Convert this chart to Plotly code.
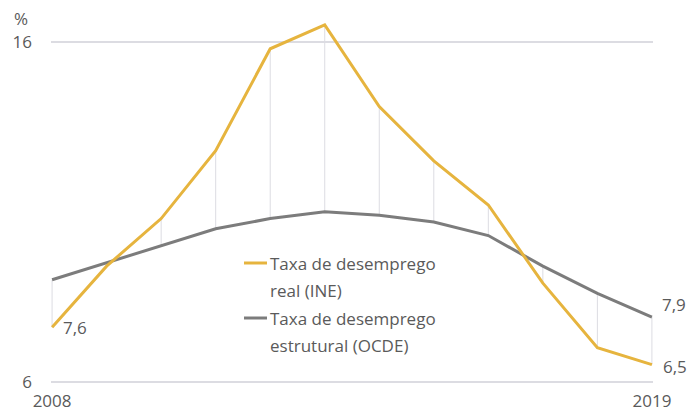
import plotly.graph_objects as go

# Annual unemployment rates, Portugal (%)
years = list(range(2008, 2020))
taxa_real = [7.6, 9.4, 10.8, 12.8, 15.8, 16.5, 14.1, 12.5, 11.2, 8.9, 7.0, 6.5]
taxa_estrutural = [9.0, 9.5, 10.0, 10.5, 10.8, 11.0, 10.9, 10.7, 10.3, 9.4, 8.6, 7.9]
y_ticks = [6, 16]
x_ticks = [2008, 2019]

name_real = ["Taxa de desemprego", "real (INE)"]
name_estr = ["Taxa de desemprego", "estrutural (OCDE)"]

YELLOW = "#E6B43E"
GREY = "#7C7C7C"
TEXT = "#5A5A5A"
LIGHT = "#DCDCE2"
FONT = "Open Sans"

W, H = 687, 412
M = dict(l=51, r=34, t=8, b=27)
PW, PH = W - M["l"] - M["r"], H - M["t"] - M["b"]


def px(x, y):
    """Pixel position -> paper coordinates."""
    return (x - M["l"]) / PW, 1 - (y - M["t"]) / PH


def fmt(v):
    return f"{v:.1f}".replace(".", ",")


# thin connectors between the two series for every year
conn_x, conn_y = [], []
for yr, a, b in zip(years, taxa_real, taxa_estrutural):
    conn_x += [yr, yr, None]
    conn_y += [a, b, None]

fig = go.Figure()
fig.add_trace(go.Scatter(x=conn_x, y=conn_y, mode="lines",
                         line=dict(color=LIGHT, width=1), hoverinfo="skip"))
fig.add_trace(go.Scatter(x=years, y=taxa_estrutural, mode="lines",
                         line=dict(color=GREY, width=3)))
fig.add_trace(go.Scatter(x=years, y=taxa_real, mode="lines",
                         line=dict(color=YELLOW, width=3)))

annotations = []
# value labels at the ends
annotations.append(dict(x=years[0], y=taxa_real[0], xref="x", yref="y",
                        text=fmt(taxa_real[0]), showarrow=False,
                        xanchor="left", yanchor="middle", xshift=9))
annotations.append(dict(x=years[-1], y=taxa_estrutural[-1], xref="x", yref="y",
                        text=fmt(taxa_estrutural[-1]), showarrow=False,
                        xanchor="left", yanchor="middle", xshift=8, yshift=13))
annotations.append(dict(x=years[-1], y=taxa_real[-1], xref="x", yref="y",
                        text=fmt(taxa_real[-1]), showarrow=False,
                        xanchor="left", yanchor="middle", xshift=9, yshift=-2))
# unit label
ux, uy = px(12, 18)
annotations.append(dict(x=ux, y=uy, xref="paper", yref="paper", text="%",
                        showarrow=False, xanchor="left", yanchor="middle"))

# legend built from text and short line keys
shapes = []
for (label, color, y0) in [(name_real, YELLOW, 263), (name_estr, GREY, 318)]:
    lx0, ly = px(244, y0)
    lx1, _ = px(267, y0)
    shapes.append(dict(type="line", xref="paper", yref="paper",
                       x0=lx0, x1=lx1, y0=ly, y1=ly,
                       line=dict(color=color, width=3)))
    for i, line in enumerate(label):
        tx, ty = px(268, y0 + 27.5 * i)
        annotations.append(dict(x=tx, y=ty, xref="paper", yref="paper",
                                text=line, showarrow=False,
                                xanchor="left", yanchor="middle"))

fig.update_layout(
    width=W, height=H, margin=M,
    paper_bgcolor="white", plot_bgcolor="white",
    showlegend=False,
    font=dict(family=FONT, size=17, color=TEXT),
    annotations=annotations, shapes=shapes,
    xaxis=dict(range=[2007.98, 2019.02], tickvals=x_ticks,
               ticktext=[str(v) for v in x_ticks],
               showgrid=False, zeroline=False, showline=False, ticks="",
               ticklabelstandoff=4, automargin=False),
    yaxis=dict(range=[5.9, 17], tickvals=y_ticks,
               ticktext=[str(v) for v in y_ticks],
               showgrid=True, gridcolor=LIGHT, gridwidth=2,
               zeroline=False, showline=False, ticks="",
               ticklabelstandoff=18, automargin=False),
)

fig.write_html("out.html")
